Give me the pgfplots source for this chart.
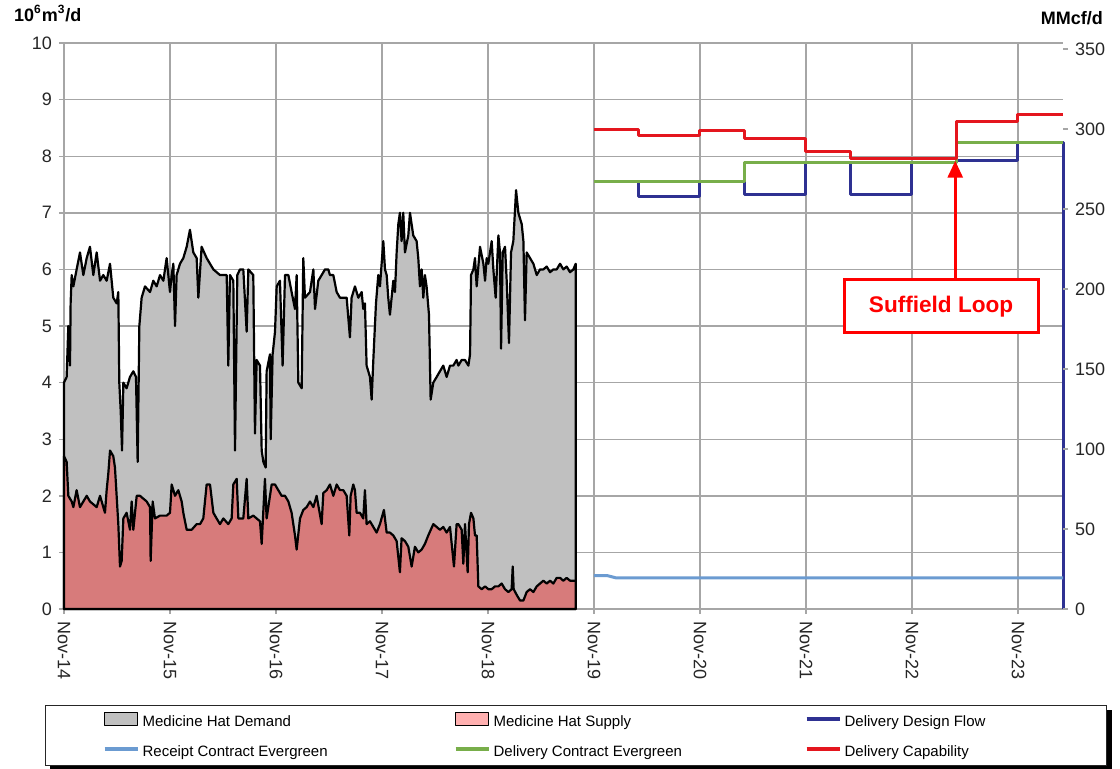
\documentclass[border=0pt]{standalone}
\usepackage{fontspec}
\setmainfont{Liberation Sans}
\usepackage{pgfplots}
\pgfplotsset{compat=1.18}
\usepackage{pgfplotstable}
\usetikzlibrary{arrows.meta}

\definecolor{demandgray}{HTML}{C0C0C0}
\definecolor{supplyred}{HTML}{D77B7B}
\definecolor{supplypink}{HTML}{FFB0B0}
\definecolor{designblue}{HTML}{2E3192}
\definecolor{receiptblue}{HTML}{6B9BD1}
\definecolor{contractgreen}{HTML}{78AE4A}
\definecolor{capred}{HTML}{E4161E}
\definecolor{gridgray}{HTML}{A6A6A6}

% months since Nov-14, 10^6 m3/d
\pgfplotstableread{
m v
0.00 4.0
0.30 4.1
0.49 5.0
0.68 4.3
0.75 5.4
0.87 5.9
1.06 5.7
1.43 6.0
1.81 6.3
2.19 5.9
2.57 6.2
2.94 6.4
3.32 5.9
3.70 6.3
4.08 5.8
4.45 5.9
4.83 5.8
5.21 6.1
5.58 5.5
5.96 5.4
6.15 5.6
6.26 4.0
6.42 3.5
6.57 2.8
6.72 4.0
7.09 3.9
7.47 4.1
7.85 4.2
8.15 4.1
8.34 2.6
8.53 5.0
8.79 5.5
9.17 5.7
9.74 5.6
10.11 5.8
10.49 5.7
10.87 5.9
11.25 5.8
11.62 6.2
12.00 5.6
12.19 5.9
12.38 6.1
12.57 5.0
12.75 5.9
13.13 6.1
13.51 6.2
13.89 6.4
14.26 6.7
14.64 6.3
15.02 6.2
15.21 5.5
15.58 6.4
16.15 6.2
16.91 6.0
17.66 5.9
18.42 5.9
18.60 4.3
18.79 5.9
19.17 5.8
19.36 2.8
19.62 5.9
19.92 6.0
20.30 6.0
20.68 4.9
20.87 6.0
21.43 5.9
21.62 3.1
21.81 4.4
22.19 4.3
22.38 2.8
22.57 2.6
22.83 2.5
22.94 4.2
23.32 4.5
23.40 3.0
23.62 4.5
23.89 4.9
24.08 5.7
24.45 5.8
24.75 4.3
25.02 5.9
25.40 5.9
25.77 5.6
26.15 5.3
26.34 5.9
26.53 4.0
26.91 3.9
27.09 6.2
27.28 5.5
27.85 5.6
28.23 6.0
28.42 5.3
28.79 5.8
29.17 5.9
29.55 6.0
29.92 6.0
30.11 5.9
30.49 5.9
30.87 5.6
31.24 5.5
31.62 5.5
32.00 5.5
32.37 4.8
32.56 5.5
32.94 5.7
33.32 5.5
33.70 5.6
33.88 5.3
34.07 5.4
34.26 4.3
34.64 4.1
34.83 3.7
35.02 4.4
35.32 5.4
35.58 5.9
35.77 5.7
36.15 6.5
36.34 6.0
36.53 5.9
36.71 5.5
36.90 5.2
37.28 5.8
37.47 5.6
37.66 6.3
37.85 6.8
38.03 7.0
38.22 6.5
38.41 7.0
38.60 6.3
38.98 6.6
39.17 7.0
39.54 6.6
39.92 6.5
40.11 6.2
40.30 5.7
40.49 6.0
40.68 5.5
40.86 5.9
41.05 5.7
41.32 5.2
41.51 3.7
41.81 4.0
42.19 4.1
42.56 4.2
42.94 4.3
43.32 4.1
43.70 4.3
44.07 4.3
44.45 4.4
44.65 4.3
45.02 4.4
45.40 4.4
45.78 4.3
45.97 4.5
46.08 5.9
46.35 6.0
46.53 6.2
46.72 5.7
47.10 6.4
47.48 6.1
47.67 5.8
47.85 6.2
48.04 6.1
48.42 6.5
48.61 6.0
48.87 5.5
49.18 6.6
49.36 6.3
49.48 4.6
49.67 6.3
49.93 6.4
50.12 5.8
50.38 4.7
50.61 6.3
50.87 6.5
51.18 7.4
51.44 7.0
51.82 6.8
52.01 6.5
52.19 5.1
52.38 6.3
52.76 6.2
53.14 6.1
53.52 5.9
53.89 6.0
54.27 6.0
54.65 6.05
55.03 5.95
55.40 6.0
55.78 6.0
56.16 6.1
56.53 6.0
56.91 6.05
57.29 5.95
57.67 6.0
57.93 6.1
}\demand

\pgfplotstableread{
m v
0.00 2.7
0.30 2.6
0.49 2.0
0.87 1.9
1.06 1.8
1.43 2.1
1.81 1.8
2.19 1.9
2.57 2.0
2.94 1.9
3.32 1.85
3.70 1.8
4.08 2.0
4.45 1.8
4.64 1.7
4.83 2.1
5.02 2.4
5.21 2.8
5.58 2.7
5.77 2.5
5.96 2.0
6.15 1.5
6.34 0.75
6.53 0.85
6.72 1.6
7.09 1.7
7.47 1.4
7.66 1.9
7.85 1.4
8.23 2.0
8.60 2.0
8.98 1.95
9.36 1.9
9.74 1.8
9.81 0.85
10.04 1.9
10.30 1.6
10.87 1.65
11.62 1.65
12.00 1.7
12.19 2.2
12.57 2.0
12.94 2.1
13.32 1.9
13.51 1.7
13.89 1.4
14.45 1.4
15.02 1.5
15.40 1.5
15.77 1.6
16.15 2.2
16.53 2.2
16.91 1.7
17.28 1.6
17.66 1.5
18.04 1.6
18.60 1.5
18.98 1.6
19.17 2.2
19.55 2.3
19.74 1.6
20.30 1.6
20.68 2.3
20.87 1.6
21.43 1.65
21.81 1.6
22.19 1.55
22.38 1.15
22.75 2.3
22.94 1.6
23.51 2.2
23.89 2.2
24.26 2.1
24.64 2.0
25.02 2.0
25.40 1.9
25.77 1.7
26.15 1.3
26.34 1.05
26.72 1.6
27.09 1.75
27.47 1.8
27.85 1.9
28.23 1.8
28.60 2.0
29.17 1.5
29.36 2.05
29.74 2.1
30.11 2.2
30.49 2.0
30.87 2.2
31.24 2.1
31.62 2.1
32.00 2.0
32.30 1.3
32.45 2.0
32.75 2.2
32.94 2.1
33.13 1.7
33.51 1.7
33.88 1.6
34.07 2.1
34.26 1.5
34.64 1.55
35.02 1.45
35.39 1.35
35.77 1.5
36.22 1.75
36.53 1.35
36.90 1.35
37.28 1.3
37.66 1.2
38.03 0.65
38.22 1.25
38.60 1.2
38.98 1.1
39.36 0.75
39.73 1.1
40.11 1.0
40.49 1.05
40.86 1.15
41.24 1.3
41.81 1.5
42.19 1.45
42.56 1.4
42.94 1.45
43.32 1.35
43.70 1.45
44.15 0.75
44.45 1.5
44.65 1.5
45.02 1.4
45.21 0.8
45.40 1.5
45.70 0.65
45.85 1.5
46.08 1.7
46.35 1.6
46.53 1.3
46.72 1.3
46.91 0.4
47.29 0.35
47.67 0.4
48.04 0.35
48.42 0.35
48.80 0.4
49.18 0.4
49.55 0.45
49.93 0.35
50.31 0.3
50.68 0.35
50.80 0.75
50.91 0.35
51.25 0.25
51.63 0.15
52.01 0.15
52.38 0.3
52.76 0.35
53.14 0.3
53.52 0.4
53.89 0.45
54.27 0.5
54.65 0.45
55.03 0.5
55.40 0.45
55.78 0.55
56.16 0.55
56.53 0.5
56.91 0.55
57.29 0.5
57.67 0.5
57.93 0.5
}\supply

\begin{document}
\begin{tikzpicture}
\path[use as bounding box] (-32pt,-79.5pt) rectangle (528pt,304.5pt);
\begin{axis}[
  at={(0,0)}, anchor=south west,
  scale only axis, width=499.5pt, height=283pt,
  xmin=0, xmax=113.1, ymin=0, ymax=10,
  axis x line*=bottom, axis y line*=left,
  axis line style={gridgray, line width=0.8pt},
  xtick={0,12,...,108},
  xticklabels={Nov-14,Nov-15,Nov-16,Nov-17,Nov-18,Nov-19,Nov-20,Nov-21,Nov-22,Nov-23},
  ytick={0,1,...,10},
  grid=major,
  major grid style={gridgray, line width=0.7pt},
  tick align=outside, major tick length=2.5pt,
  tick style={gridgray, line width=0.7pt},
  tick label style={font=\fontsize{9}{10}\selectfont, text=black!85},
  xticklabel style={rotate=-90, anchor=west},
  /pgf/number format/assume math mode=true,
  clip=false,
  legend columns=3,
  legend cell align=left,
  legend style={name=leg, at={(-0.019,-0.1696)}, anchor=north west,
    draw=black!85, line width=0.6pt, fill=white,
    inner xsep=28.5pt, inner ysep=3pt,
    font=\fontsize{7.5}{9}\selectfont,
    nodes={inner sep=0pt, text height=5.5pt, text depth=1.5pt},
    row sep=8pt,
    /tikz/every odd column/.append style={column sep=1.5pt},
    /tikz/every even column/.append style={column sep=53pt}},
]
\addplot[fill=demandgray, draw=black, line width=1.1pt, line join=round,
  legend image code/.code={\draw[fill=demandgray, draw=black, line width=0.6pt] (0pt,-1.25pt) rectangle (16.5pt,5.25pt);}]
  table[x=m, y=v] {\demand} \closedcycle;
\addlegendentry{\makebox[102.5pt][l]{Medicine Hat Demand}}

\addplot[fill=supplyred, draw=black, line width=1.1pt, line join=round,
  legend image code/.code={\draw[fill=supplypink, draw=black, line width=0.6pt] (0pt,-1.25pt) rectangle (16.5pt,5.25pt);}]
  table[x=m, y=v] {\supply} \closedcycle;
\addlegendentry{\makebox[102.5pt][l]{Medicine Hat Supply}}

\addplot[designblue, line width=1.5pt, line join=round,
  legend image code/.code={\draw[designblue, line width=2pt] (0pt,2pt) -- (16.5pt,2pt);}]
  coordinates {(60,7.55) (65,7.55) (65,7.29) (72,7.29) (72,7.55) (77,7.55) (77,7.33) (84,7.33) (84,7.89) (89,7.89) (89,7.33) (96,7.33) (96,7.89) (101,7.89) (101,7.92) (108,7.92) (108,8.245) (113.1,8.245) (113.1,0)};
\addlegendentry{\makebox[102.5pt][l]{Delivery Design Flow}}

\addplot[receiptblue, line width=1.5pt, line join=round,
  legend image code/.code={\draw[receiptblue, line width=2pt] (0pt,2pt) -- (16.5pt,2pt);}]
  coordinates {(60,0.59) (61.5,0.59) (62.5,0.55) (113.1,0.55)};
\addlegendentry{\makebox[102.5pt][l]{Receipt Contract Evergreen}}

\addplot[contractgreen, line width=1.5pt, line join=round,
  legend image code/.code={\draw[contractgreen, line width=2pt] (0pt,2pt) -- (16.5pt,2pt);}]
  coordinates {(60,7.55) (77,7.55) (77,7.89) (101,7.89) (101,8.245) (113.1,8.245)};
\addlegendentry{\makebox[102.5pt][l]{Delivery Contract Evergreen}}

\addplot[capred, line width=1.5pt, line join=round,
  legend image code/.code={\draw[capred, line width=2pt] (0pt,2pt) -- (16.5pt,2pt);}]
  coordinates {(60,8.475) (65,8.475) (65,8.36) (72,8.36) (72,8.45) (77,8.45) (77,8.31) (84,8.31) (84,8.09) (89,8.09) (89,7.96) (101,7.96) (101,8.62) (108,8.62) (108,8.74) (113.1,8.74)};
\addlegendentry{\makebox[102.5pt][l]{Delivery Capability}}

\draw[red, line width=1.5pt, -{Triangle[width=7.5pt,length=8.5pt]}] (axis cs:100.9,5.81) -- (axis cs:100.9,7.92);
\node[draw=red, line width=1.5pt, fill=white, minimum width=97pt, minimum height=26.5pt,
  text=red, font=\bfseries\fontsize{11.3}{13}\selectfont] at (axis cs:99.3,5.345) {Suffield Loop};
\end{axis}

\begin{axis}[
  at={(0,0)}, anchor=south west,
  scale only axis, width=499.5pt, height=283pt,
  xmin=0, xmax=113.1, ymin=0, ymax=353.7,
  axis x line=none, axis y line*=right,
  y axis line style={draw=none},
  ytick={0,50,...,350},
  tick align=outside, major tick length=2.5pt,
  tick style={gridgray, line width=0.7pt},
  tick label style={font=\fontsize{9}{10}\selectfont, text=black!85},
  /pgf/number format/assume math mode=true,
]
\end{axis}

% legend shadow (right and bottom strips)
\fill[black] ([yshift=-2.5pt]leg.north east) rectangle ([xshift=2.5pt,yshift=-2.5pt]leg.south east);
\fill[black] ([xshift=2.5pt]leg.south west) rectangle ([xshift=2.5pt,yshift=-2.5pt]leg.south east);

\node[anchor=base west, font=\bfseries\fontsize{9}{10}\selectfont] at (-28.5pt,294pt) {10\textsuperscript{6}m\textsuperscript{3}/d};
\node[anchor=base east, font=\bfseries\fontsize{9}{10}\selectfont] at (523pt,292.5pt) {MMcf/d};
\end{tikzpicture}
\end{document}
